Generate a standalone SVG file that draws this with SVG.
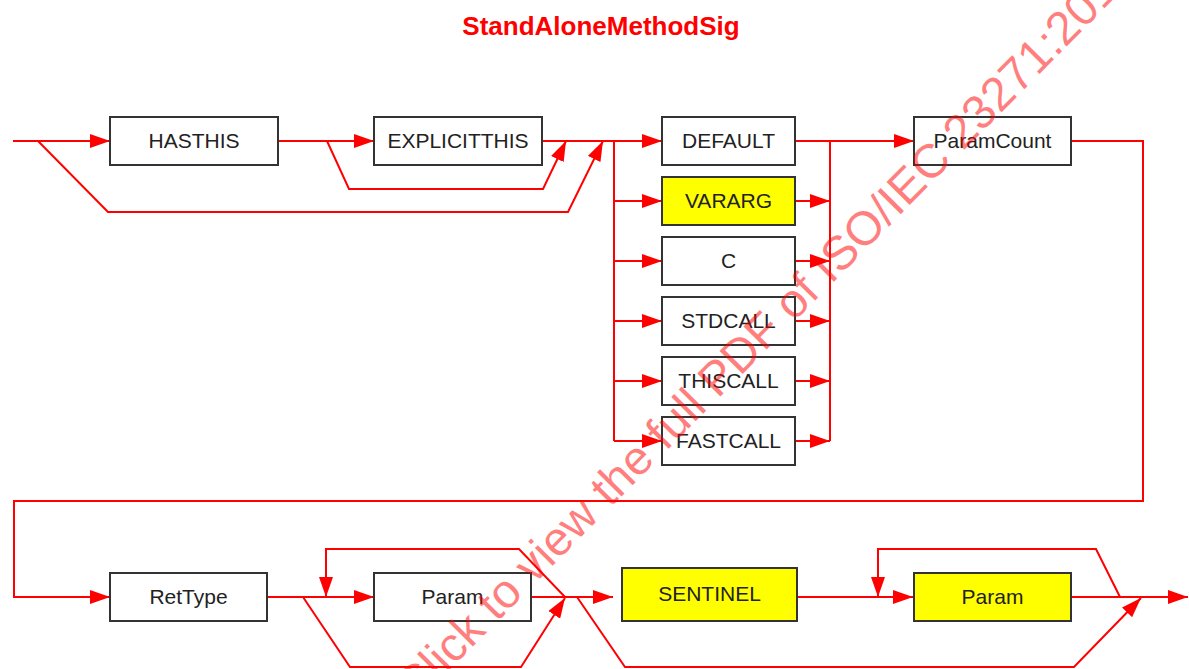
<svg xmlns="http://www.w3.org/2000/svg" width="1189" height="669" viewBox="0 0 1189 669">
  <style>
    .box { fill: #ffffff; stroke: #333333; stroke-width: 2; }
    .box.opt { fill: #ffff00; }
    .lbl { font-family: "Liberation Sans", Arial, sans-serif; font-size: 21px; fill: #222222; text-anchor: middle; }
    .wire { fill: none; stroke: #ff0000; stroke-width: 2; stroke-linejoin: miter; }
    .arr { marker-end: url(#head); }
    .title { font-family: "Liberation Sans", Arial, sans-serif; font-size: 26px; font-weight: bold; fill: #ff0000; text-anchor: middle; }
    .stamp { font-family: "Liberation Sans", Arial, sans-serif; font-size: 47.5px; fill: #ff0000; fill-opacity: 0.5; }
  </style>
  <defs>
    <marker id="head" markerUnits="userSpaceOnUse" markerWidth="20" markerHeight="14" refX="20" refY="7" orient="auto">
      <path d="M0,0 L20,7 L0,14 z" fill="#ff0000"/>
    </marker>
  </defs>

  <rect width="1189" height="669" fill="#ffffff"/>

  <text class="title" x="601" y="35">StandAloneMethodSig</text>

  <!-- connectors -->
  <g id="connectors">
    <!-- first row: this-flags -->
    <path class="wire arr" d="M13,141 H110"/>
    <path class="wire arr" d="M278,141 H374"/>
    <path class="wire" d="M542,141 H614"/>
    <path class="wire arr" d="M38,141 L108,212 H568 L603,141"/>
    <path class="wire arr" d="M327,141 L349,189 H543 L566,141"/>

    <!-- calling convention fan-out -->
    <path class="wire" d="M614,141 V441"/>
    <path class="wire arr" d="M614,141 H662"/>
    <path class="wire arr" d="M614,201 H662"/>
    <path class="wire arr" d="M614,261 H662"/>
    <path class="wire arr" d="M614,321 H662"/>
    <path class="wire arr" d="M614,381 H662"/>
    <path class="wire arr" d="M614,441 H662"/>

    <!-- calling convention fan-in -->
    <path class="wire" d="M830,141 V441"/>
    <path class="wire arr" d="M795,141 H914"/>
    <path class="wire arr" d="M795,201 H830"/>
    <path class="wire arr" d="M795,261 H830"/>
    <path class="wire arr" d="M795,321 H830"/>
    <path class="wire arr" d="M795,381 H830"/>
    <path class="wire arr" d="M795,441 H830"/>

    <!-- wrap to second row -->
    <path class="wire arr" d="M1071,141 H1143 V501 H14 V597 H110"/>

    <!-- second row -->
    <path class="wire arr" d="M267,597 H374"/>
    <path class="wire arr" d="M565,597 L519,549 H326 V597"/>
    <path class="wire arr" d="M303,597 L350,667 H521 L565,598"/>
    <path class="wire arr" d="M531,597 H613"/>
    <path class="wire arr" d="M577,597 L625,667 H1074 L1141,598"/>
    <path class="wire arr" d="M797,597 H913"/>
    <path class="wire arr" d="M1120,597 L1096,549 H878 V597"/>
    <path class="wire arr" d="M1071,597 H1188"/>
  </g>

  <!-- nodes -->
  <g id="n-hasthis"><rect class="box" x="110" y="117" width="168" height="48"/><text class="lbl" x="194" y="148">HASTHIS</text></g>
  <g id="n-explicitthis"><rect class="box" x="374" y="117" width="168" height="48"/><text class="lbl" x="458" y="148">EXPLICITTHIS</text></g>
  <g id="n-default"><rect class="box" x="662" y="117" width="133" height="48"/><text class="lbl" x="728.5" y="148">DEFAULT</text></g>
  <g id="n-vararg"><rect class="box opt" x="662" y="177" width="133" height="48"/><text class="lbl" x="728.5" y="208">VARARG</text></g>
  <g id="n-c"><rect class="box" x="662" y="237" width="133" height="48"/><text class="lbl" x="728.5" y="268">C</text></g>
  <g id="n-stdcall"><rect class="box" x="662" y="297" width="133" height="48"/><text class="lbl" x="728.5" y="328">STDCALL</text></g>
  <g id="n-thiscall"><rect class="box" x="662" y="357" width="133" height="48"/><text class="lbl" x="728.5" y="388">THISCALL</text></g>
  <g id="n-fastcall"><rect class="box" x="662" y="417" width="133" height="48"/><text class="lbl" x="728.5" y="448">FASTCALL</text></g>
  <g id="n-paramcount"><rect class="box" x="914" y="117" width="157" height="48"/><text class="lbl" x="992.5" y="148">ParamCount</text></g>
  <g id="n-rettype"><rect class="box" x="110" y="573" width="157" height="48"/><text class="lbl" x="188.5" y="604">RetType</text></g>
  <g id="n-param"><rect class="box" x="374" y="573" width="157" height="48"/><text class="lbl" x="452.5" y="604">Param</text></g>
  <g id="n-sentinel"><rect class="box opt" x="622" y="568" width="175" height="53"/><text class="lbl" x="709.5" y="601">SENTINEL</text></g>
  <g id="n-varparam"><rect class="box opt" x="914" y="573" width="157" height="48"/><text class="lbl" x="992.5" y="604">Param</text></g>

  <!-- overprinted notice -->
  <text class="stamp" transform="translate(415,705) rotate(-45.3)">Click to view the full PDF of ISO/IEC 23271:2012</text>
</svg>
